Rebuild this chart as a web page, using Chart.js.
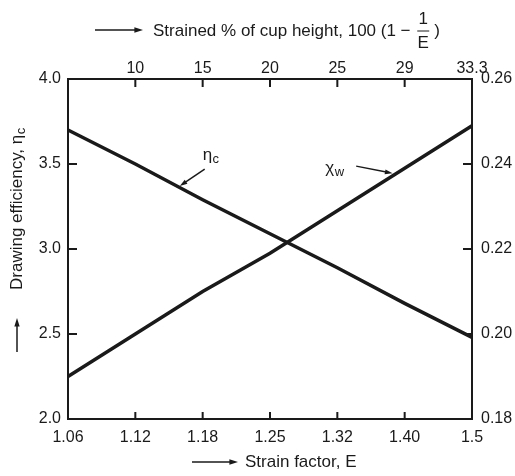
<!DOCTYPE html>
<html>
<head>
<meta charset="utf-8">
<script src="https://cdn.jsdelivr.net/npm/chart.js@4/dist/chart.umd.min.js"></script>
<style>
  html, body { margin: 0; padding: 0; background: #fff; }
</style>
</head>
<body>
<canvas id="chart" width="515" height="476"></canvas>
<script>
// strain factor E (bottom axis) and strained % of cup height (top axis)
const strainFactor = ["1.06", "1.12", "1.18", "1.25", "1.32", "1.40", "1.5"];
const strainedPct = ["", "10", "15", "20", "25", "29", "33.3"];

// drawing efficiency (left axis) and chi_w (right axis)
const etaC = [3.70, 3.50, 3.29, 3.09, 2.89, 2.68, 2.48];
const chiW = [0.190, 0.200, 0.210, 0.219, 0.229, 0.239, 0.249];

const FONT = '"Liberation Sans", Arial, sans-serif';
const INK = '#1a1a1a';

function arrow(ctx, x1, y1, x2, y2, head) {
    const ang = Math.atan2(y2 - y1, x2 - x1);
    ctx.beginPath();
    ctx.moveTo(x1, y1);
    ctx.lineTo(x2 - Math.cos(ang) * head * 0.8, y2 - Math.sin(ang) * head * 0.8);
    ctx.stroke();
    ctx.beginPath();
    ctx.moveTo(x2, y2);
    ctx.lineTo(x2 - head * Math.cos(ang - 0.3), y2 - head * Math.sin(ang - 0.3));
    ctx.lineTo(x2 - head * Math.cos(ang + 0.3), y2 - head * Math.sin(ang + 0.3));
    ctx.closePath();
    ctx.fill();
}

// text with a subscript, e.g. eta_c
function subText(ctx, main, sub, x, y, size) {
    ctx.font = size + 'px ' + FONT;
    ctx.textBaseline = 'middle';
    ctx.textAlign = 'left';
    ctx.fillText(main, x, y);
    const w = ctx.measureText(main).width;
    ctx.font = Math.round(size * 0.75) + 'px ' + FONT;
    ctx.fillText(sub, x + w + 0.5, y + 4);
    return w + ctx.measureText(sub).width;
}

const extras = {
    id: 'extras',
    afterDraw(chart) {
        const { ctx, chartArea: a, scales } = chart;
        ctx.save();
        ctx.strokeStyle = INK;
        ctx.fillStyle = INK;
        ctx.lineWidth = 2;

        // inward tick marks
        ctx.beginPath();
        for (let i = 1; i < strainFactor.length - 1; i++) {
            const px = scales.x.getPixelForValue(i);
            ctx.moveTo(px, a.bottom); ctx.lineTo(px, a.bottom - 7);
            ctx.moveTo(px, a.top); ctx.lineTo(px, a.top + 8);
        }
        [2.5, 3.0, 3.5].forEach(v => {
            const py = scales.y.getPixelForValue(v);
            ctx.moveTo(a.left, py); ctx.lineTo(a.left + 9, py);
        });
        [0.20, 0.22, 0.24].forEach(v => {
            const py = scales.y1.getPixelForValue(v);
            ctx.moveTo(a.right, py); ctx.lineTo(a.right - 9, py);
        });
        ctx.stroke();

        // curve labels with pointer arrows
        ctx.lineWidth = 1.5;
        const ex = v => scales.x.getPixelForValue(v);
        const ey = v => scales.y.getPixelForValue(v);
        const ry = v => scales.y1.getPixelForValue(v);
        subText(ctx, 'η', 'c', ex(2.0), ey(3.55), 17);
        arrow(ctx, ex(2.03), ey(3.47), ex(1.66), ey(3.37), 8);
        subText(ctx, 'χ', 'w', ex(3.82), ry(0.239), 17);
        arrow(ctx, ex(4.28), ry(0.2395), ex(4.82), ry(0.2378), 8);

        // top axis title with fraction
        ctx.lineWidth = 1.5;
        arrow(ctx, 95, 30, 143, 30, 9);
        ctx.font = '17px ' + FONT;
        ctx.textBaseline = 'middle';
        ctx.textAlign = 'left';
        const t = 'Strained % of cup height, 100 (1 \u2212 ';
        ctx.fillText(t, 153, 31);
        const fx = 153 + ctx.measureText(t).width + 8;
        ctx.textAlign = 'center';
        ctx.fillText('1', fx, 19);
        ctx.fillText('E', fx, 43);
        ctx.lineWidth = 1;
        ctx.beginPath(); ctx.moveTo(fx - 6, 31); ctx.lineTo(fx + 6, 31); ctx.stroke();
        ctx.textAlign = 'left';
        ctx.fillText(')', fx + 11, 31);

        // bottom axis title
        ctx.lineWidth = 1.5;
        arrow(ctx, 192, 462, 238, 462, 9);
        ctx.fillText('Strain factor, E', 245, 462);

        // left axis title, rotated
        arrow(ctx, 17, 352, 17, 318, 9);
        ctx.translate(17, 290);
        ctx.rotate(-Math.PI / 2);
        subText(ctx, 'Drawing efficiency, η', 'c', 0, 0, 17);
        ctx.restore();
    }
};

const tickFont = { family: FONT, size: 16 };

const chart = new Chart(document.getElementById('chart').getContext('2d'), {
    type: 'line',
    data: {
        labels: strainFactor,
        datasets: [
            {
                label: 'ηc',
                data: etaC,
                yAxisID: 'y',
                borderColor: INK,
                borderWidth: 3.5,
                pointRadius: 0,
                tension: 0,
                fill: false
            },
            {
                label: 'χw',
                data: chiW,
                yAxisID: 'y1',
                borderColor: INK,
                borderWidth: 3.5,
                pointRadius: 0,
                tension: 0,
                fill: false
            }
        ]
    },
    options: {
        responsive: false,
        animation: false,
        layout: { padding: 0 },
        plugins: {
            legend: { display: false },
            tooltip: { enabled: false },
            title: { display: false }
        },
        scales: {
            x: {
                type: 'category',
                position: 'bottom',
                offset: false,
                grid: { display: true, drawOnChartArea: false, drawTicks: false },
                border: { display: true, color: INK, width: 2 },
                ticks: { color: INK, font: tickFont, padding: 9, maxRotation: 0, autoSkip: false },
                afterFit: s => { s.height = 57; }
            },
            x2: {
                type: 'category',
                position: 'top',
                labels: strainedPct,
                offset: false,
                display: true,
                grid: { display: true, drawOnChartArea: false, drawTicks: false },
                border: { display: true, color: INK, width: 2 },
                ticks: { color: INK, font: tickFont, padding: 1, maxRotation: 0, autoSkip: false },
                afterFit: s => { s.height = 79; }
            },
            y: {
                position: 'left',
                min: 2.0,
                max: 4.0,
                grid: { display: true, drawOnChartArea: false, drawTicks: false },
                border: { display: true, color: INK, width: 2 },
                ticks: { color: INK, font: tickFont, padding: 7, stepSize: 0.5, callback: v => v.toFixed(1) },
                afterFit: s => { s.width = 68; }
            },
            y1: {
                position: 'right',
                min: 0.18,
                max: 0.26,
                grid: { display: true, drawOnChartArea: false, drawTicks: false },
                border: { display: true, color: INK, width: 2 },
                ticks: { color: INK, font: tickFont, padding: 9, stepSize: 0.02, callback: v => v.toFixed(2) },
                afterFit: s => { s.width = 43; }
            }
        }
    },
    plugins: [extras]
});
</script>
</body>
</html>
